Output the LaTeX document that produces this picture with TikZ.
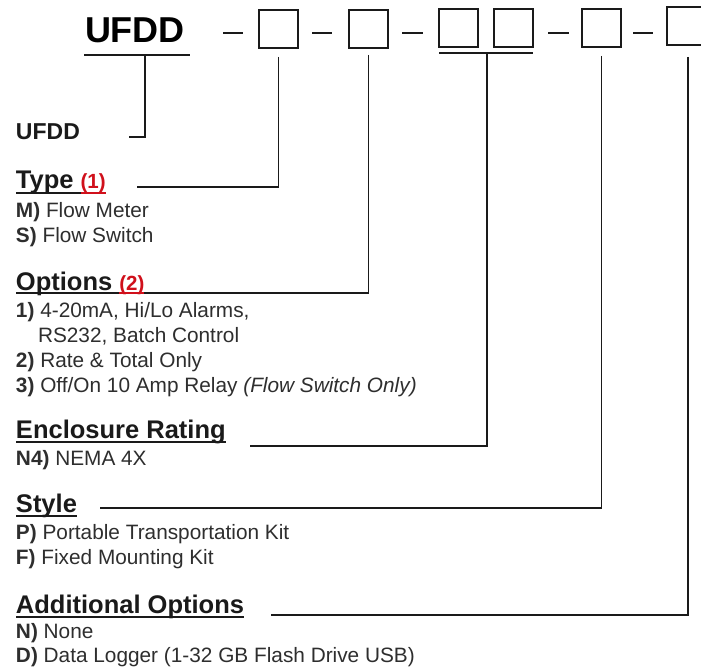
\documentclass[tikz,border=0pt]{standalone}
\usepackage{fontspec}
\setmainfont{Liberation Sans}
\definecolor{ink}{HTML}{1A1A1A}
\definecolor{txt}{HTML}{2E2E2E}
\definecolor{redmark}{HTML}{D0101B}
\begin{document}
\begin{tikzpicture}[x=1pt,y=-1pt,
  every node/.style={inner sep=0pt,outer sep=0pt,anchor=base west},
  titlest/.style={font=\fontsize{36}{40}\selectfont\bfseries,text=black},
  labelst/.style={font=\fontsize{23}{26}\selectfont\bfseries,text=ink},
  head/.style={font=\fontsize{25.5}{28}\selectfont\bfseries,text=ink},
  markst/.style={font=\fontsize{20.5}{24}\selectfont\bfseries,text=redmark},
  item/.style={font=\fontsize{20.8}{24}\selectfont,text=txt},
  digitbox/.style={draw=ink,line width=1.4pt,minimum width=39pt,minimum height=38pt,anchor=north west},
  dashline/.style={draw=ink,line width=1.5pt},
  leader/.style={draw=ink,line width=1.6pt},
  uline/.style={draw=ink,line width=1.5pt},
  ulred/.style={draw=redmark,line width=1.5pt}]
\useasboundingbox (0,0) rectangle (701,671);
\fill[white] (0,0) rectangle (701,671);

% ---- top row ----
\node[titlest] (title) at (85,43) {UFDD};
\coordinate (tu1) at (84,55);
\coordinate (tu2) at (190,55);
\draw[uline] (tu1) -- (tu2);

\node[digitbox] (b1) at (259,10) {};
\node[digitbox] (b2) at (349,10) {};
\node[digitbox] (b3) at (439,9) {};
\node[digitbox] (b4) at (494,9) {};
\node[digitbox] (b5) at (582,9) {};
\node[digitbox] (b6) at (667,7) {};

\coordinate (d1a) at (223,33); \coordinate (d1b) at (243,33);
\coordinate (d2a) at (312,33); \coordinate (d2b) at (332,33);
\coordinate (d3a) at (402,33); \coordinate (d3b) at (423,33);
\coordinate (d4a) at (548,33); \coordinate (d4b) at (569,33);
\coordinate (d5a) at (633,33); \coordinate (d5b) at (653,33);
\draw[dashline] (d1a) -- (d1b);
\draw[dashline] (d2a) -- (d2b);
\draw[dashline] (d3a) -- (d3b);
\draw[dashline] (d4a) -- (d4b);
\draw[dashline] (d5a) -- (d5b);

\coordinate (bu1) at (439,53);
\coordinate (bu2) at (533,53);
\draw[uline] (bu1) -- (bu2);

% ---- left column ----
\node[labelst] (lab) at (16,140) {UFDD};

\node[head] (hType) at (16,189) {Type};
\node[markst] (mType) at ([xshift=7pt]hType.base east) {(1)};
\draw[uline] ([yshift=-4pt]hType.base west) -- ([yshift=-4pt]mType.base west);
\draw[ulred] ([yshift=-4pt]mType.base west) -- ([yshift=-4pt]mType.base east);
\node[item] (iM) at (16,217) {\textbf{M)} Flow Meter};
\node[item] (iS) at (16,242) {\textbf{S)} Flow Switch};

\node[head] (hOpt) at (16,290) {Options};
\node[markst] (mOpt) at ([xshift=7pt]hOpt.base east) {(2)};
\draw[uline] ([yshift=-3pt]hOpt.base west) -- ([yshift=-3pt]mOpt.base west);
\draw[ulred] ([yshift=-3pt]mOpt.base west) -- ([yshift=-3pt]mOpt.base east);
\node[item] (i1) at (16,317) {\textbf{1)} 4-20mA, Hi/Lo Alarms,};
\node[item] (i1b) at (38,342) {RS232, Batch Control};
\node[item] (i2) at (16,367) {\textbf{2)} Rate \& Total Only};
\node[item] (i3) at (16,392) {\textbf{3)} Off/On 10 Amp Relay \textit{(Flow Switch Only)}};

\node[head] (hEnc) at (16,438) {Enclosure Rating};
\draw[uline] ([yshift=-4pt]hEnc.base west) -- ([yshift=-4pt]hEnc.base east);
\node[item] (iN4) at (16,465) {\textbf{N4)} NEMA 4X};

\node[head] (hSty) at (16,512) {Style};
\draw[uline] ([yshift=-4pt]hSty.base west) -- ([yshift=-4pt]hSty.base east);
\node[item] (iP) at (16,539) {\textbf{P)} Portable Transportation Kit};
\node[item] (iF) at (16,564) {\textbf{F)} Fixed Mounting Kit};

\node[head] (hAdd) at (16,613) {Additional Options};
\draw[uline] ([yshift=-4pt]hAdd.base west) -- ([yshift=-4pt]hAdd.base east);
\node[item] (iN) at (16,638) {\textbf{N)} None};
\node[item] (iD) at (16,662) {\textbf{D)} Data Logger (1-32 GB Flash Drive USB)};

% ---- leaders ----
\coordinate (s0) at (145,55);
\coordinate (e0) at (129,137);
\draw[leader] (s0) |- (e0);

\coordinate (e1) at (137,187);
\draw[leader] ([yshift=-9pt]b1.south) |- (e1);

\coordinate (e2) at ([yshift=-3pt]mOpt.base east);
\draw[leader] ([yshift=-7pt]b2.south) |- (e2);

\coordinate (s3) at (487,53);
\coordinate (e3) at (250,446);
\draw[leader] (s3) |- (e3);

\coordinate (e4) at (100,508);
\draw[leader] ([yshift=-9pt]b5.south) |- (e4);

\coordinate (s5) at (688,57);
\coordinate (e5) at (271,615);
\draw[leader] (s5) |- (e5);
\end{tikzpicture}
\end{document}
